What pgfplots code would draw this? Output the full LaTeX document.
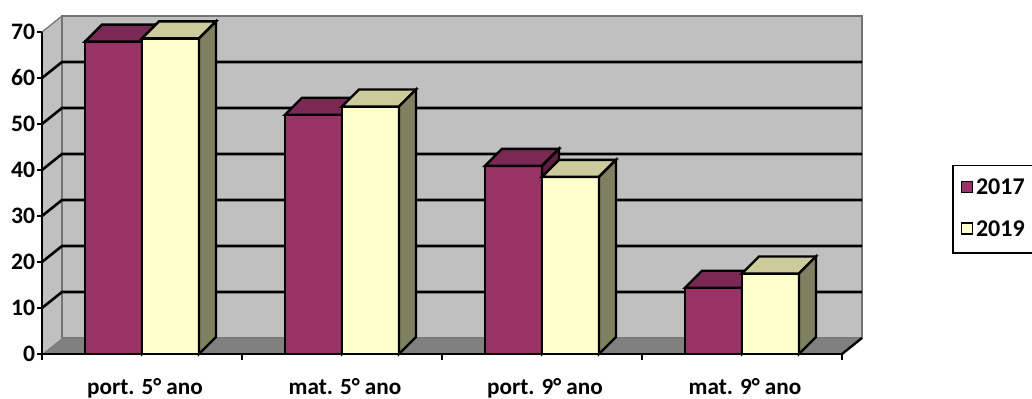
\documentclass[border=0pt]{standalone}
\usepackage{pgfplots}
\pgfplotsset{compat=1.18}
\usepackage{pgfplotstable}
\usepackage{fontspec}
\setmainfont{Carlito}
\definecolor{plumF}{HTML}{993366}
\definecolor{plumT}{HTML}{7A2854}
\definecolor{plumS}{HTML}{5E1E40}
\definecolor{yelF}{HTML}{FFFFCC}
\definecolor{yelT}{HTML}{CBCB9B}
\definecolor{yelS}{HTML}{7F7F62}
\definecolor{wallC}{HTML}{C0C0C0}
\definecolor{floorC}{HTML}{808080}
\newcommand\getheight{%
  \begingroup
  \pgfkeys{/pgf/fpu=true,/pgf/fpu/output format=fixed}%
  \pgfmathparse{\hval*2.3}%
  \xdef\hh{\pgfmathresult}%
  \endgroup
}
% #1 front, #2 top, #3 side colour, #4 left x, #5 right x (relative to mark at top of bar)
\newcommand\drawbarthreed[5]{%
  \getheight
  \pgfsetlinewidth{1.2pt}\pgfsetstrokecolor{black}\pgfsetmiterjoin
  \pgfsetfillcolor{#1}%
  \pgfpathrectanglecorners{\pgfpoint{#4}{0pt}}{\pgfpoint{#5}{\dimexpr-\hh pt\relax}}%
  \pgfusepath{fill,stroke}%
  \pgfsetfillcolor{#2}%
  \pgfpathmoveto{\pgfpoint{#4}{0pt}}%
  \pgfpathlineto{\pgfpoint{#5}{0pt}}%
  \pgfpathlineto{\pgfpoint{\dimexpr#5+8.5pt\relax}{8.5pt}}%
  \pgfpathlineto{\pgfpoint{\dimexpr#4+8.5pt\relax}{8.5pt}}%
  \pgfpathclose
  \pgfusepath{fill,stroke}%
  \pgfsetfillcolor{#3}%
  \pgfpathmoveto{\pgfpoint{#5}{0pt}}%
  \pgfpathlineto{\pgfpoint{\dimexpr#5+8.5pt\relax}{8.5pt}}%
  \pgfpathlineto{\pgfpoint{\dimexpr#5+8.5pt\relax}{\dimexpr8.5pt-\hh pt\relax}}%
  \pgfpathlineto{\pgfpoint{#5}{\dimexpr-\hh pt\relax}}%
  \pgfpathclose
  \pgfusepath{fill,stroke}%
}
\pgfdeclareplotmark{barA}{\drawbarthreed{plumF}{plumT}{plumS}{-28.5pt}{0pt}}
\pgfdeclareplotmark{barB}{\drawbarthreed{yelF}{yelT}{yelS}{0pt}{28.5pt}}
\pgfplotstableread{
x a b
0 67.9 68.6
1 52.0 53.8
2 40.9 38.5
3 14.4 17.5
}\datatable
\begin{document}
\begin{tikzpicture}
\path[use as bounding box] (-21pt,-22.5pt) rectangle (495pt,177pt);
\begin{axis}[
  at={(0,0)}, anchor=south west,
  x=100pt, y=2.3pt,
  xmin=-0.5, xmax=3.5, ymin=0, ymax=70,
  clip=false, axis on top,
  axis x line*=bottom, axis y line*=left,
  axis line style={line width=1.2pt, black},
  ytick={0,10,20,30,40,50,60,70},
  xtick={0,1,2,3},
  xticklabels={port. 5° ano, mat. 5° ano, port. 9° ano, mat. 9° ano},
  minor xtick={-0.5,0.5,1.5,2.5,3.5},
  tick align=outside,
  major tick length=2.5pt,
  minor tick length=3pt,
  major x tick style={draw=none},
  every tick/.style={black, line width=1.2pt},
  xticklabel style={font=\bfseries\fontsize{11.6}{14}\selectfont, anchor=base, xshift=1.5pt, yshift=-18pt},
  yticklabel style={font=\bfseries\fontsize{11.8}{13}\selectfont, xshift=2.6pt},
  /pgf/number format/assume math mode=true,
]
% walls and floor
\fill[wallC] (axis cs:-0.5,0) -- (axis cs:-0.5,70) -- ([shift={(10pt,8pt)}]axis cs:-0.5,70) -- ([shift={(10pt,8pt)}]axis cs:-0.5,0) -- cycle;
\draw[wallC!60!black, line width=0.6pt, fill=wallC] ([shift={(10pt,8pt)}]axis cs:-0.5,0) rectangle ([shift={(10pt,8pt)}]axis cs:3.5,70);
\draw[wallC!60!black, line width=0.6pt] (axis cs:-0.5,70) -- ([shift={(10pt,8pt)}]axis cs:-0.5,70);
\fill[floorC] (axis cs:-0.5,0) -- (axis cs:3.5,0) -- ([shift={(10pt,8pt)}]axis cs:3.5,0) -- ([shift={(10pt,8pt)}]axis cs:-0.5,0) -- cycle;
\pgfplotsinvokeforeach{10,20,30,40,50,60}{
  \draw[black, line width=1.3pt] (axis cs:-0.5,#1) -- ([shift={(10pt,8pt)}]axis cs:-0.5,#1) -- ([shift={(10pt,8pt)}]axis cs:3.5,#1);
}
\draw[black, line width=1.2pt] (axis cs:3.5,0) -- ([shift={(10pt,8pt)}]axis cs:3.5,0);
% bars
\addplot[ybar, bar width=28.5pt, bar shift=-14.25pt, fill=plumF, draw=black, line width=1.2pt,
  mark=barA, visualization depends on={rawy \as \hval}] table[x=x, y=a] {\datatable};
\addplot[ybar, bar width=28.5pt, bar shift=14.25pt, fill=yelF, draw=black, line width=1.2pt,
  mark=barB, visualization depends on={rawy \as \hval}] table[x=x, y=b] {\datatable};
\end{axis}
% legend
\draw[black, line width=0.8pt, fill=white] (455.35pt,50.5pt) rectangle (505pt,94.15pt);
\draw[black, line width=0.7pt, fill=plumF] (459.85pt,80.85pt) rectangle (465.35pt,86.35pt);
\draw[black, line width=0.7pt, fill=yelF] (459.85pt,60pt) rectangle (465.35pt,65.5pt);
\node[anchor=west, inner sep=0pt, font=\bfseries\fontsize{12}{14}\selectfont] at (466.8pt,83.6pt) {2017};
\node[anchor=west, inner sep=0pt, font=\bfseries\fontsize{12}{14}\selectfont] at (466.8pt,62.75pt) {2019};
\end{tikzpicture}
\end{document}
